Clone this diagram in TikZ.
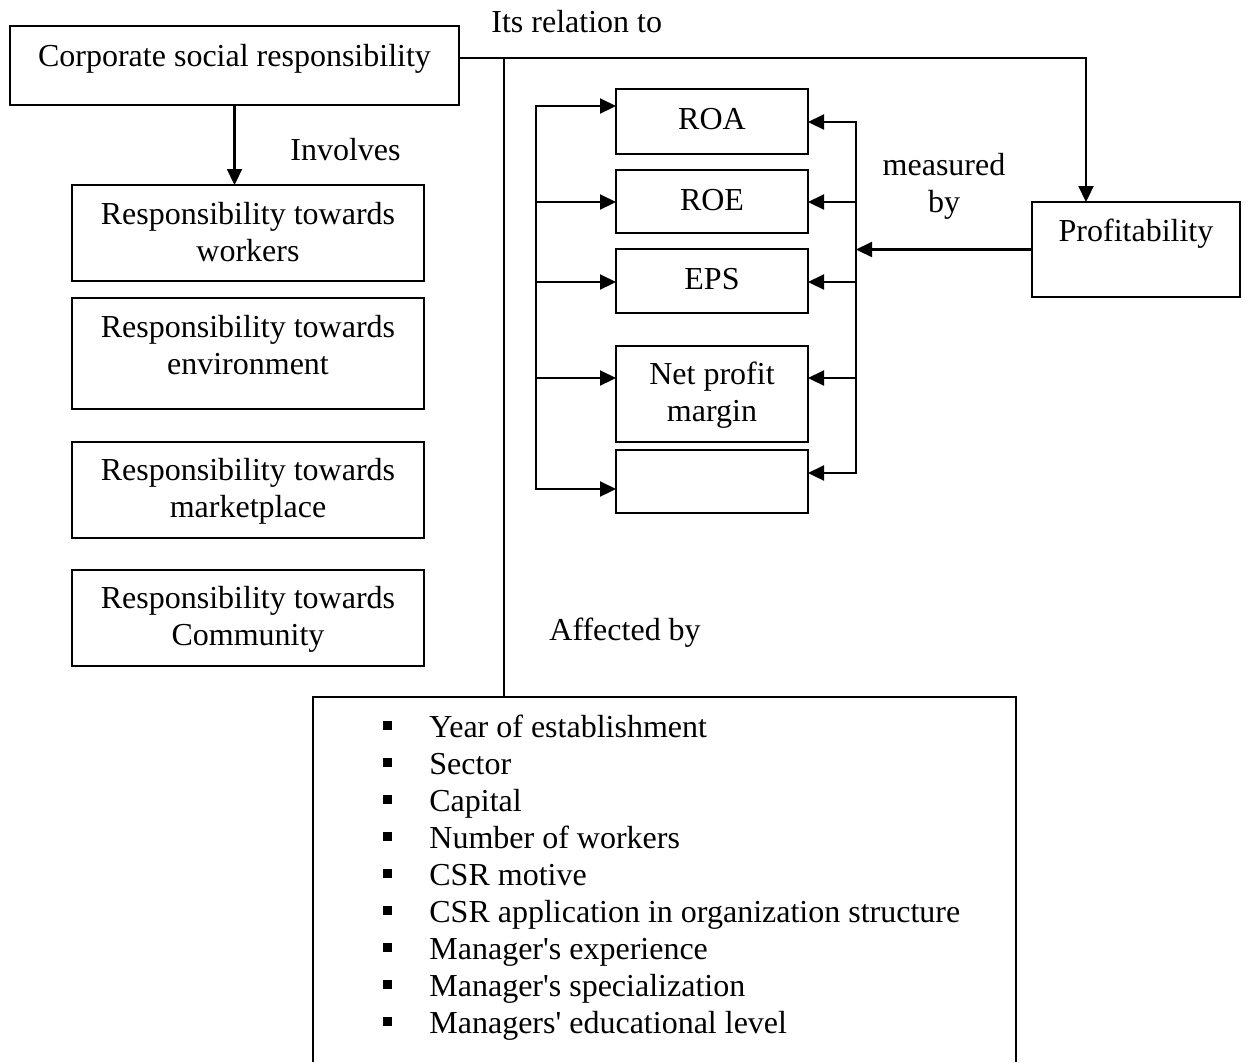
\documentclass[tikz,border=0pt]{standalone}
\usepackage{fontspec}
\setmainfont{Liberation Serif}
\usetikzlibrary{fit,arrows.meta}
\tikzset{
  box/.style={draw, line width=1.1pt, inner sep=0pt, outer sep=0pt},
  txt/.style={inner sep=0pt, align=center, font=\fontsize{16}{18.75}\selectfont},
  ln/.style={line width=1.1pt},
  arr/.style={line width=1.1pt, -{Triangle[length=8pt,width=7.5pt]}},
}
\newcommand{\bul}{\makebox[23pt][l]{\rule[3.5pt]{4.5pt}{4.5pt}}}
\newcommand{\apos}{\textquotesingle}
\begin{document}
\begin{tikzpicture}[x=0.5pt,y=-0.5pt]
\useasboundingbox (0,0) rectangle (1249,1062);

% boxes
\node[box, fit={(10,26) (459,105)}] (csr) {};
\node[box, fit={(72,185) (424,281)}] (wrk) {};
\node[box, fit={(72,298) (424,409)}] (env) {};
\node[box, fit={(72,442) (424,538)}] (mkt) {};
\node[box, fit={(72,570) (424,666)}] (com) {};
\node[box, fit={(616,89) (808,154)}] (roa) {};
\node[box, fit={(616,170) (808,233)}] (roe) {};
\node[box, fit={(616,249) (808,313)}] (eps) {};
\node[box, fit={(616,346) (808,442)}] (npm) {};
\node[box, fit={(616,450) (808,513)}] (emp) {};
\node[box, fit={(1032,202) (1240,297)}] (prof) {};
\node[inner sep=0pt, outer sep=0pt, fit={(313,697) (1016,1062)}] (fac) {};
\draw[ln] (fac.south west) -- (fac.north west) -- (fac.north east) -- (fac.south east);

% texts
\node[txt, anchor=base west] (rel) at (491,32) {Its relation to};
\node[txt, anchor=base] (csrT) at (234.5,66) {Corporate social responsibility};
\node[txt, anchor=base west] (inv) at (290,160) {Involves};
\node[txt, anchor=north] (wrkT) at (248,197.75) {\strut Responsibility towards\\\strut workers};
\node[txt, anchor=north] (envT) at (248,310.75) {\strut Responsibility towards\\\strut environment};
\node[txt, anchor=north] (mktT) at (248,453.75) {\strut Responsibility towards\\\strut marketplace};
\node[txt, anchor=north] (comT) at (248,581.75) {\strut Responsibility towards\\\strut Community};
\node[txt, anchor=base] (roaT) at (712,129) {ROA};
\node[txt, anchor=base] (roeT) at (712,210) {ROE};
\node[txt, anchor=base] (epsT) at (712,289) {EPS};
\node[txt, anchor=north] (npmT) at (712,357.75) {\strut Net profit\\\strut margin};
\node[txt, anchor=north] (meas) at (944,148.75) {\strut measured\\\strut by};
\node[txt, anchor=base] (profT) at (1136,241) {Profitability};
\node[txt, anchor=base west] (aff) at (549,640) {Affected by};

\foreach \i/\t in {0/Year of establishment, 1/Sector, 2/Capital, 3/Number of workers, 4/CSR motive, 5/CSR application in organization structure, 6/Manager\apos s experience, 7/Manager\apos s specialization, 8/Managers\apos\ educational level}
  \node[txt, anchor=base west] (f\i) at (383,737+37*\i) {\bul\t};

% connectors
\coordinate (j1) at (504,58);
\coordinate (j2) at (1086,58);
\draw[arr] (csr.south) -- (csr.south |- wrk.north);
\draw[arr] (csr.east |- j1) -| (j2 |- prof.north);
\draw[ln] (j1) -- (j1 |- fac.north);

\coordinate (lbt) at (536,106);
\coordinate (lbb) at (536,489);
\coordinate (rbt) at (856,122);
\coordinate (rbb) at (856,473);
\draw[arr] (lbb) -- (lbt) -- (roa.west |- lbt);
\draw[arr] (lbt) -- (lbb) -- (emp.west |- lbb);
\foreach \b/\y in {roe/202, eps/282, npm/378}
  \draw[arr] (lbt |- 0,\y) -- (\b.west |- 0,\y);
\draw[arr] (rbb) -- (rbt) -- (roa.east |- rbt);
\draw[arr] (rbt) -- (rbb) -- (emp.east |- rbb);
\foreach \b/\y in {roe/202, eps/282, npm/378}
  \draw[arr] (rbt |- 0,\y) -- (\b.east |- 0,\y);
\draw[arr] (prof.west) -- (prof.west -| rbt);
\end{tikzpicture}
\end{document}
